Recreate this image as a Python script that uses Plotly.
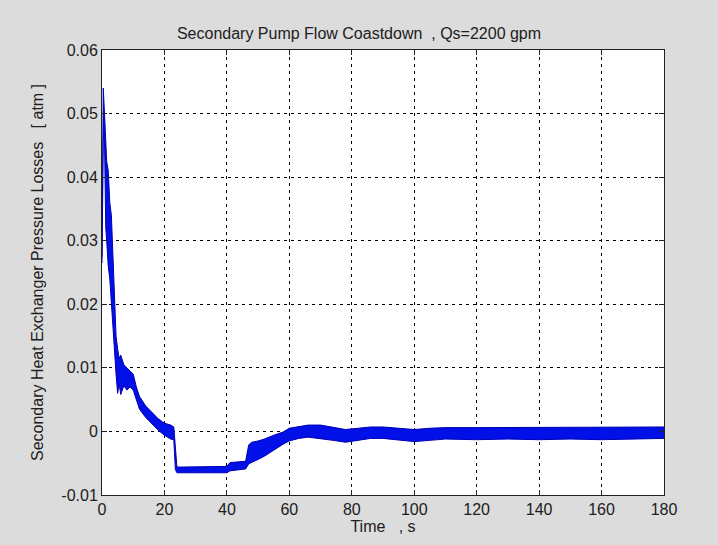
import plotly.graph_objects as go

# Time (s) and envelope of the oscillating pressure-loss signal (atm)
time_s = [0, 0.4, 0.8, 1.2, 1.5, 2.0, 2.5, 3.0, 3.5, 4.0, 4.5, 5.0, 5.5, 6, 7, 8, 9, 10,
          11, 12, 14, 16, 18, 20, 22, 23, 23.5, 24, 26, 30, 35, 40, 41, 43, 45, 46, 47,
          48, 50, 52, 55, 58, 60, 63, 66, 70, 74, 78, 82, 86, 90, 95, 100, 105, 110,
          120, 130, 140, 150, 160, 170, 180]
upper = [0.0275, 0.054, 0.050, 0.046, 0.0425, 0.041, 0.036, 0.034, 0.028, 0.021, 0.015,
         0.013, 0.0115, 0.012, 0.0105, 0.010, 0.0095, 0.009, 0.007, 0.0055, 0.004, 0.003,
         0.002, 0.0013, 0.001, 0.0007, -0.002, -0.0056, -0.0056, -0.0056, -0.0056,
         -0.0055, -0.0049, -0.0048, -0.0048, -0.0047, -0.0021, -0.0017, -0.0015, -0.0012,
         -0.0006, -0.0001, 0.0005, 0.0008, 0.001, 0.001, 0.0007, 0.0003, 0.0005, 0.0007,
         0.0007, 0.0005, 0.0003, 0.0005, 0.0006, 0.0006, 0.0006, 0.0006, 0.0006, 0.0006,
         0.0007, 0.0007]
lower = [0.0265, 0.046, 0.046, 0.032, 0.030, 0.026, 0.024, 0.020, 0.017, 0.012, 0.009,
         0.006, 0.0075, 0.0058, 0.0072, 0.0065, 0.007, 0.0065, 0.005, 0.0035, 0.0022,
         0.0012, 0.0002, -0.0006, -0.0012, -0.0013, -0.006, -0.0065, -0.0065, -0.0065,
         -0.0065, -0.0065, -0.0062, -0.0061, -0.0059, -0.0059, -0.0051, -0.0049, -0.0044,
         -0.0039, -0.0029, -0.002, -0.0015, -0.0011, -0.0009, -0.0011, -0.0014, -0.0017,
         -0.0014, -0.0011, -0.0011, -0.0014, -0.0016, -0.0014, -0.0012, -0.0013, -0.0012,
         -0.0013, -0.0012, -0.0013, -0.0012, -0.0011]

x_ticks = [0, 20, 40, 60, 80, 100, 120, 140, 160, 180]
y_ticks = [-0.01, 0, 0.01, 0.02, 0.03, 0.04, 0.05, 0.06]
y_tick_text = ["-0.01", "0", "0.01", "0.02", "0.03", "0.04", "0.05", "0.06"]

FONT = "Liberation Sans, Arial"
BLUE_LINE = "#0000b4"
BLUE_FILL = "#0010e6"

fig = go.Figure()
fig.add_trace(go.Scatter(x=time_s, y=lower, mode="lines",
                         line=dict(color=BLUE_LINE, width=1), hoverinfo="skip",
                         showlegend=False))
fig.add_trace(go.Scatter(x=time_s, y=upper, mode="lines", fill="tonexty",
                         fillcolor=BLUE_FILL,
                         line=dict(color=BLUE_LINE, width=1), showlegend=False))

axis_common = dict(
    showline=True, linecolor="#202020", linewidth=1, mirror="ticks",
    ticks="inside", ticklen=5, tickcolor="#202020", tickwidth=1,
    showgrid=True, gridcolor="black", gridwidth=1, griddash="3px,4px",
    zeroline=False, tickfont=dict(family=FONT, size=16, color="#202020"),
)

fig.update_layout(
    width=718, height=545,
    margin=dict(l=102, r=54, t=50, b=50),
    paper_bgcolor="#dcdcdc", plot_bgcolor="white",
    font=dict(family=FONT, color="#202020"),
    title=dict(text="Secondary Pump Flow Coastdown\u00a0\u00a0, Qs=2200 gpm",
               x=0.5, xref="container", xanchor="center",
               y=1 - 33 / 545, yref="container", yanchor="middle",
               font=dict(family=FONT, size=16, color="#202020")),
    xaxis=dict(range=[0, 180], tickvals=x_ticks, ticktext=[str(v) for v in x_ticks],
               title=dict(text="Time\u00a0\u00a0\u00a0, s", standoff=0,
                          font=dict(family=FONT, size=16, color="#202020")),
               **axis_common),
    yaxis=dict(range=[-0.01, 0.06], tickvals=y_ticks, ticktext=y_tick_text,
               title=dict(text="Secondary Heat Exchanger Pressure Losses\u00a0\u00a0\u00a0[ atm ]",
                          standoff=13,
                          font=dict(family=FONT, size=16, color="#202020")),
               **axis_common),
)

fig.write_html("out.html")
